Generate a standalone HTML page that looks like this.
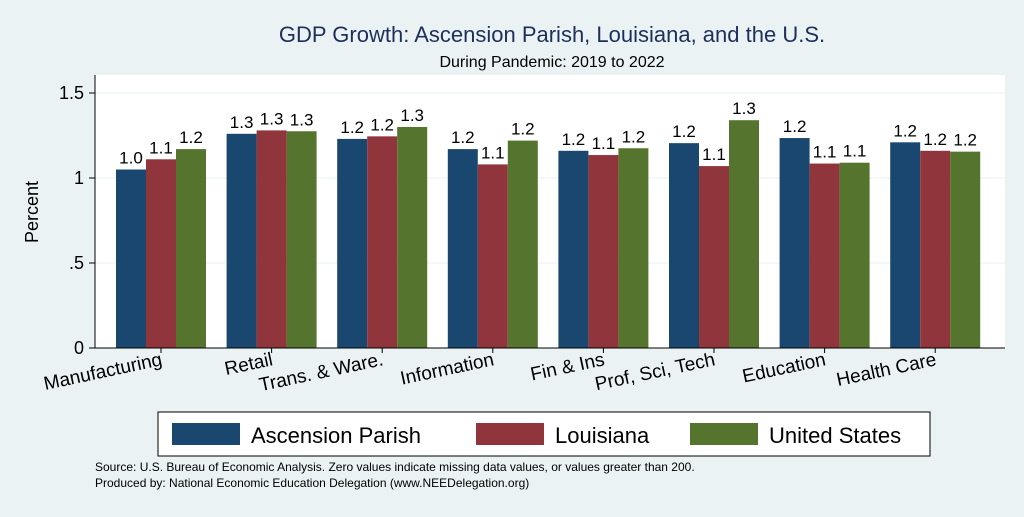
<!DOCTYPE html>
<html><head><meta charset="utf-8"><style>
body{margin:0;width:1024px;height:512px;background:#eaf2f3;font-family:"Liberation Sans",sans-serif;overflow:hidden}
</style></head><body>
<svg id="chart" width="1024" height="512" xmlns="http://www.w3.org/2000/svg" font-family="Liberation Sans, sans-serif">
<rect x="0" y="0" width="1024" height="512" fill="#eaf2f3"/>
<text x="552" y="42" font-size="22" fill="#1e2f5c" text-anchor="middle">GDP Growth: Ascension Parish, Louisiana, and the U.S.</text>
<text x="552" y="67" font-size="16" fill="#000" text-anchor="middle">During Pandemic: 2019 to 2022</text>
<rect x="95" y="75" width="910" height="273" fill="#fff"/>
<g id="grid"></g><g id="bars"></g><g id="axes"></g>
<text transform="translate(38,212) rotate(-90)" font-size="18" text-anchor="middle">Percent</text>
<rect x="158" y="412" width="772" height="44" fill="#fff" stroke="#000" stroke-width="1"/>
<g><rect x="172" y="423" width="68" height="22" fill="#1a476f"/><text x="251" y="443" font-size="22">Ascension Parish</text></g>
<g><rect x="476" y="423" width="68" height="22" fill="#90353b"/><text x="555" y="443" font-size="22">Louisiana</text></g>
<g><rect x="690" y="423" width="68" height="22" fill="#55752f"/><text x="769" y="443" font-size="22">United States</text></g>
<text x="95" y="471" font-size="12">Source: U.S. Bureau of Economic Analysis. Zero values indicate missing data values, or values greater than 200.</text>
<text x="95" y="487" font-size="12">Produced by: National Economic Education Delegation (www.NEEDelegation.org)</text>
</svg>
<script>
const categories=["Manufacturing","Retail","Trans. & Ware.","Information","Fin & Ins","Prof, Sci, Tech","Education","Health Care"];
const ascension=[1.05,1.26,1.23,1.17,1.16,1.205,1.235,1.21];
const louisiana=[1.11,1.28,1.245,1.08,1.135,1.07,1.085,1.16];
const unitedStates=[1.17,1.275,1.30,1.22,1.175,1.34,1.09,1.155];
const ascLabels=["1.0","1.3","1.2","1.2","1.2","1.2","1.2","1.2"];
const laLabels=["1.1","1.3","1.2","1.1","1.1","1.1","1.1","1.2"];
const usLabels=["1.2","1.3","1.3","1.2","1.2","1.3","1.1","1.2"];
const yTicks=[0,0.5,1,1.5];
const yTickLabels=["0",".5","1","1.5"];
const NS="http://www.w3.org/2000/svg";
const y=v=>348-v*170;
const xc=i=>161+i*110.6;
const bw=30;
const grid=document.getElementById('grid'),bars=document.getElementById('bars'),axes=document.getElementById('axes');
function mk(tag,attrs,parent){const e=document.createElementNS(NS,tag);for(const k in attrs)e.setAttribute(k,attrs[k]);parent.appendChild(e);return e;}
yTicks.forEach((t,i)=>{
  if(t>0){const g=mk('line',{x1:95,x2:1005,y1:y(t),y2:y(t),stroke:'#eaf2f3','stroke-width':1},grid);
  
  }
  const tk=mk('line',{x1:89,x2:95,y1:y(t),y2:y(t),stroke:'#000'},axes);
  
  
  const tl=mk('text',{x:84,y:y(t)+6,'font-size':18,'text-anchor':'end'},axes);
  tl.textContent=yTickLabels[i];
  
  
});
const series=[[ascension,ascLabels,'#1a476f'],[louisiana,laLabels,'#90353b'],[unitedStates,usLabels,'#55752f']];
categories.forEach((c,i)=>{
  series.forEach((s,j)=>{
    const x0=xc(i)-45+j*bw, v=s[0][i];
    const r=mk('rect',{x:x0,y:y(v),width:bw,height:348-y(v),fill:s[2]},bars);
    
    
    const t=mk('text',{x:x0+bw/2,y:y(v)-6,'font-size':17,'text-anchor':'middle'},bars);
    t.textContent=s[1][i];
    
    
  });
  const tk=mk('line',{x1:xc(i),x2:xc(i),y1:348,y2:353,stroke:'#000'},axes);
  
  
  const lx=xc(i)+2, ly=365;
  const lb=mk('text',{x:lx,y:ly,'font-size':19,'text-anchor':'end',transform:`rotate(-12 ${lx} ${ly})`},axes);
  lb.textContent=c;
  
  
});
const ya=mk('line',{x1:95,x2:95,y1:75,y2:348,stroke:'#000'},axes);


const xa=mk('line',{x1:95,x2:1005,y1:348,y2:348,stroke:'#000'},axes);


</script>
</body></html>
